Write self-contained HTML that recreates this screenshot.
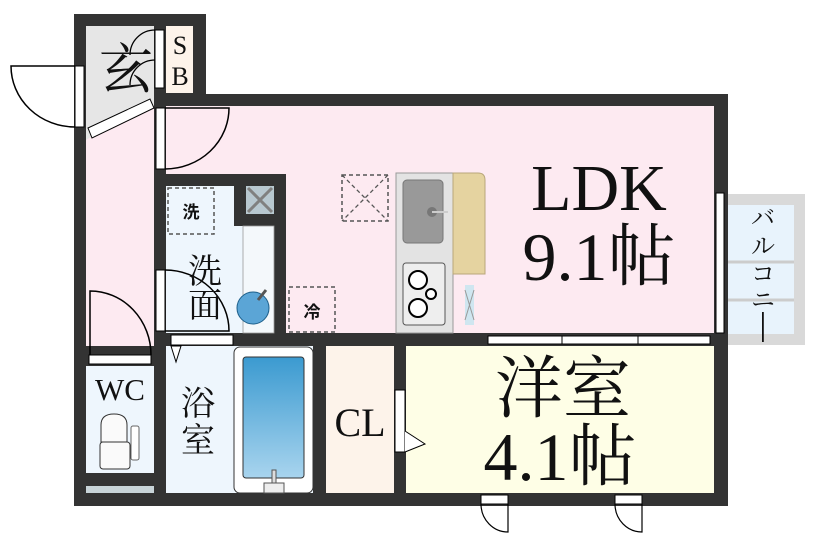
<!DOCTYPE html>
<html><head><meta charset="utf-8"><style>
html,body{margin:0;padding:0;background:#fff;}
svg{display:block;}
text{font-family:"Liberation Serif","Noto Serif CJK SC",serif;fill:#111;}
.g{font-family:"Liberation Sans","Noto Sans CJK JP",sans-serif;font-weight:bold;}
</style></head><body>
<svg width="830" height="553" viewBox="0 0 830 553" xmlns="http://www.w3.org/2000/svg">
<rect x="724" y="194" width="81" height="151" fill="#d9d9d9"/>
<rect x="726" y="205" width="68" height="129" fill="#e8f3fc"/>
<line x1="726" y1="262" x2="794" y2="262" stroke="#ccc" stroke-width="3"/>
<line x1="726" y1="300" x2="794" y2="300" stroke="#ccc" stroke-width="3"/>
<rect x="74" y="14" width="132" height="92" fill="#333"/>
<rect x="74" y="94" width="654" height="412" fill="#333"/>
<rect x="86" y="26" width="68" height="112" fill="#e6e6e6"/>
<rect x="166" y="26" width="27" height="67" fill="#fdf3ea"/>
<rect x="155" y="30" width="9" height="58" fill="#fff" stroke="#000" stroke-width="1"/>
<path d="M155 30 A25 25 0 0 0 130 55 M155 60 A25 25 0 0 0 130 85" fill="none" stroke="#000" stroke-width="1.3"/>
<rect x="86" y="138" width="68" height="208" fill="#fdeaf1"/>
<rect x="86" y="106" width="68" height="40" fill="#fdeaf1"/>
<polygon points="86,86 154,86 154,98 86,140" fill="#e6e6e6"/>
<polygon points="88,128 150,99 154,108 92,138" fill="#fff" stroke="#000" stroke-width="1"/>
<rect x="75" y="66" width="9" height="61" fill="#fff" stroke="#000" stroke-width="1"/>
<path d="M75 66 L11 66 A64 61 0 0 0 75 127" fill="none" stroke="#000" stroke-width="1.5"/>
<rect x="166" y="106" width="548" height="68" fill="#fdeaf1"/>
<rect x="286" y="106" width="428" height="227" fill="#fdeaf1"/>
<rect x="156" y="108" width="9" height="61" fill="#fff" stroke="#000" stroke-width="1"/>
<path d="M165 108 L229 108 A64 61 0 0 1 165 169" fill="none" stroke="#000" stroke-width="1.5"/>
<rect x="342" y="175" width="46" height="46" fill="none" stroke="#555" stroke-width="1.5" stroke-dasharray="4,3"/>
<path d="M342 175 L388 221 M388 175 L342 221" stroke="#555" stroke-width="1.3" stroke-dasharray="4,3"/>
<rect x="289" y="287" width="46" height="45" fill="none" stroke="#555" stroke-width="1.5" stroke-dasharray="4,3"/>
<text x="312" y="318" font-size="17" text-anchor="middle" class="g">冷</text>
<rect x="396" y="173" width="57" height="160" fill="#e3e3e3" stroke="#999" stroke-width="1"/>
<rect x="403" y="180" width="40" height="63" rx="4" fill="#999" stroke="#777"/>
<circle cx="432" cy="212" r="5" fill="#777"/><line x1="432" y1="212" x2="448" y2="212" stroke="#ccc" stroke-width="2"/>
<rect x="403" y="263" width="42" height="62" rx="3" fill="#eee" stroke="#555"/>
<circle cx="418" cy="280" r="9" fill="#fff" stroke="#000" stroke-width="2"/>
<circle cx="418" cy="308" r="9" fill="#fff" stroke="#000" stroke-width="2"/>
<circle cx="431" cy="294" r="5" fill="#fff" stroke="#000" stroke-width="2"/>
<path d="M453 173 L478 173 Q485 173 485 180 L485 274 L453 274Z" fill="#e5d3a0" stroke="#b9a77a" stroke-width="1"/>
<rect x="465" y="285" width="9" height="40" fill="#cfe6f0"/>
<path d="M465 290 L474 320 M474 290 L465 320" stroke="#999" stroke-width="1"/>
<rect x="716" y="193" width="8" height="140" fill="#fff" stroke="#000" stroke-width="1"/>
<rect x="488" y="336" width="222" height="8" fill="#fff" stroke="#000" stroke-width="1"/>
<line x1="562" y1="336" x2="562" y2="344" stroke="#000"/><line x1="638" y1="336" x2="638" y2="344" stroke="#000"/>
<rect x="166" y="186" width="108" height="147" fill="#eef6fd"/>
<rect x="234" y="186" width="40" height="40" fill="#333"/>
<rect x="246" y="186" width="28" height="28" fill="#b8c8d0"/>
<path d="M248 188 L272 212 M272 188 L248 212" stroke="#808080" stroke-width="3"/>
<rect x="243" y="226" width="31" height="107" fill="#f4f8fb" stroke="#999" stroke-width="0.8"/>
<rect x="168" y="188" width="46" height="46" fill="none" stroke="#555" stroke-width="1.5" stroke-dasharray="4,3"/>
<text x="191" y="218" font-size="17" text-anchor="middle" class="g">洗</text>
<circle cx="253" cy="308" r="16" fill="#5ba5d6" stroke="#1d5f8a" stroke-width="1"/>
<line x1="258" y1="300" x2="266" y2="290" stroke="#555" stroke-width="3"/>
<rect x="156" y="270" width="9" height="61" fill="#fff" stroke="#000" stroke-width="1"/>
<path d="M165 270 A64 61 0 0 1 229 331 L165 331" fill="none" stroke="#000" stroke-width="1.5"/>
<text x="205" y="283" font-size="34" text-anchor="middle">洗</text>
<text x="205" y="317" font-size="34" text-anchor="middle">面</text>
<rect x="171" y="335" width="62" height="10" fill="#fff" stroke="#000" stroke-width="1"/>
<path d="M90 355 L90 291 A61 64 0 0 1 151 355" fill="none" stroke="#000" stroke-width="1.5"/>
<rect x="89" y="355" width="62" height="9" fill="#fff" stroke="#000" stroke-width="1"/>
<rect x="86" y="366" width="68" height="107" fill="#eef6fd"/>
<rect x="86" y="486" width="68" height="7" fill="#c8d4d8"/>
<text x="120" y="400" font-size="31" text-anchor="middle">WC</text>
<path d="M101 442 L101 425 Q101 414 114 414 Q127 414 127 425 L127 442Z" fill="#fafafa" stroke="#333"/>
<rect x="100" y="442" width="30" height="27" rx="3" fill="#fafafa" stroke="#333"/>
<rect x="131" y="426" width="8" height="34" rx="2" fill="#fff" stroke="#666"/>
<rect x="166" y="346" width="147" height="147" fill="#eef6fd"/>
<path d="M171 346 L181 346 L176 362Z" fill="#fff" stroke="#000"/>
<rect x="234" y="347" width="79" height="146" rx="6" fill="#fff" stroke="#333"/>
<defs><linearGradient id="bg" x1="0" y1="0" x2="0" y2="1"><stop offset="0" stop-color="#3b9ad0"/><stop offset="1" stop-color="#a8d4ee"/></linearGradient></defs>
<rect x="243" y="357" width="61" height="121" rx="3" fill="url(#bg)" stroke="#333"/>
<rect x="272" y="470" width="4" height="14" fill="#ddd" stroke="#555"/>
<rect x="264" y="483" width="20" height="10" fill="#eee" stroke="#555"/>
<text x="198" y="415" font-size="34" text-anchor="middle">浴</text>
<text x="198" y="452" font-size="34" text-anchor="middle">室</text>
<rect x="326" y="346" width="68" height="147" fill="#fdf3ea"/>
<text x="360" y="436" font-size="40" text-anchor="middle">CL</text>
<rect x="406" y="346" width="308" height="147" fill="#fefee6"/>
<rect x="395" y="390" width="10" height="62" fill="#fff" stroke="#000" stroke-width="1"/>
<path d="M405 431 L425 444 L405 452" fill="#fff" stroke="#000"/>
<text x="563" y="412" font-size="68" text-anchor="middle">洋室</text>
<text x="560" y="480" font-size="68" text-anchor="middle">4.1帖</text>
<text x="599" y="210" font-size="66" text-anchor="middle">LDK</text>
<text x="599" y="280" font-size="68" text-anchor="middle">9.1帖</text>
<text x="126" y="88" font-size="54" text-anchor="middle">玄</text>
<text x="180" y="54" font-size="26" text-anchor="middle">S</text>
<text x="180" y="85" font-size="26" text-anchor="middle">B</text>
<rect x="481" y="495" width="27" height="9" fill="#fff" stroke="#000"/>
<path d="M508 504 L508 532 A27 28 0 0 1 481 504" fill="none" stroke="#000" stroke-width="1.2"/>
<rect x="615" y="495" width="27" height="9" fill="#fff" stroke="#000"/>
<path d="M642 504 L642 532 A27 28 0 0 1 615 504" fill="none" stroke="#000" stroke-width="1.2"/>
<g font-size="24" text-anchor="middle">
<text x="763" y="226">バ</text><text x="763" y="254">ル</text><text x="763" y="282">コ</text><text x="763" y="308">ニ</text>
<rect x="762" y="312" width="1.8" height="30" fill="#111"/>
</g>
</svg>
</body></html>
